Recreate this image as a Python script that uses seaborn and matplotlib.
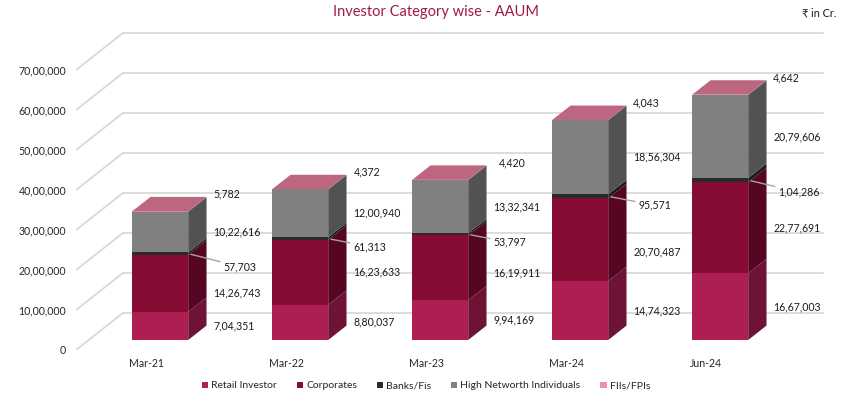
import numpy as np
import pandas as pd
import matplotlib
matplotlib.use("Agg")
import matplotlib.pyplot as plt
from matplotlib.patches import Patch
import seaborn as sns

# AAUM by investor category (Rs in Cr.)
categories = ["Mar-21", "Mar-22", "Mar-23", "Mar-24", "Jun-24"]
retail = [704351, 880037, 994169, 1474323, 1667003]
corporates = [1426743, 1623633, 1619911, 2070487, 2277691]
banks = [57703, 61313, 53797, 95571, 104286]
hni = [1022616, 1200940, 1332341, 1856304, 2079606]
fiis = [5782, 4372, 4420, 4043, 4642]

series_names = ["Retail Investor", "Corporates", "Banks/Fis",
                "High Networth Individuals", "FIIs/FPIs"]
series_vals = [retail, corporates, banks, hni, fiis]
y_ticks = [0, 1000000, 2000000, 3000000, 4000000, 5000000, 6000000, 7000000]

# colours: front face, side face
front_cols = ["#AD1F53", "#860C34", "#2B2B2B", "#808080", "#F08CAE"]
side_cols = ["#6E1335", "#560523", "#1C1C1C", "#525252", "#B0607A"]
top_col = "#BC6680"
legend_cols = ["#AD1F53", "#860C34", "#2B2B2B", "#808080", "#F08CAE"]

sns.set_style("white")
plt.rcParams["font.family"] = ["Lato", "DejaVu Sans"]

W, H, DPI = 847, 396, 100
fig = plt.figure(figsize=(W / DPI, H / DPI), dpi=DPI)

# axes placed in pixels: x=-0.5 at px 76, 140 px per category, 40 px per 10 lakh
PX_X = 140.0
PX_Y = 40.0 / 1000000
ax_left, ax_right, ax_bottom, ax_top = 76, 832, 350, 20
ax = fig.add_axes([ax_left / W, 1 - ax_bottom / H,
                   (ax_right - ax_left) / W, (ax_bottom - ax_top) / H])

# pseudo 3-D depth: full wall depth and the bar slab
DX = 47 / PX_X
DY = 37 / PX_Y
z0, dz = 0.27, 0.39
sx, sy = z0 * DX + 1.5 / PX_X, z0 * DY
bdx, bdy = dz * DX, dz * DY
bar_w = 0.4

# back wall grid lines and the diagonals to the left
x0, x1 = -0.5, 4.5
for v in y_ticks:
    ax.plot([x0 + DX, x1 + DX], [v + DY, v + DY], color="#D9D9D9", lw=1.3, zorder=0)
    ax.plot([x0, x0 + DX], [v, v + DY], color="#D9D9D9", lw=1.3, zorder=0)

# stacked front faces via seaborn: draw cumulative totals from the top down
cum = np.cumsum(np.array(series_vals, dtype=float), axis=0)
bottoms = np.vstack([np.zeros(len(categories)), cum[:-1]])
for k in range(len(series_vals) - 1, -1, -1):
    df = pd.DataFrame({"cat": categories, "val": cum[k]})
    sns.barplot(data=df, x="cat", y="val", color=front_cols[k], saturation=1,
                width=bar_w, errorbar=None, linewidth=0, ax=ax, zorder=2)

# move front faces into the bar plane
for p in ax.patches:
    p.set_x(p.get_x() + sx)
    p.set_y(p.get_y() + sy)

# side and top faces
for i in range(len(categories)):
    xl = i - bar_w / 2 + sx
    xr = i + bar_w / 2 + sx
    for k in range(len(series_vals)):
        yb = bottoms[k, i] + sy
        yt = cum[k, i] + sy
        ax.fill([xr, xr + bdx, xr + bdx, xr], [yb, yb + bdy, yt + bdy, yt],
                color=side_cols[k], lw=0, zorder=2)
    T = cum[-1, i] + sy
    ax.fill([xl, xr, xr + bdx, xl + bdx], [T, T, T + bdy, T + bdy],
            color=top_col, lw=0, zorder=2)


def indian(n):
    s = str(int(round(n)))
    if len(s) <= 3:
        return s
    head, tail = s[:-3], s[-3:]
    parts = []
    while len(head) > 2:
        parts.insert(0, head[-2:])
        head = head[:-2]
    if head:
        parts.insert(0, head)
    return ",".join(parts) + "," + tail


# data labels (pixel offsets converted to points)
pt = 72.0 / DPI
corp_nudge = [10, 0, 5, 12, 0]
bank_dx = [35, 25, 25, 30, 30]
bank_dy = [13, 8, 8, 9, 12]
fii_dx = [25, 26, 31, 25, 25]
lab_kw = dict(fontsize=7.6, color="#1A1A1A", va="center", ha="left",
              textcoords="offset points", zorder=5)
for i in range(len(categories)):
    xr = i + bar_w / 2 + sx
    for k in range(len(series_vals)):
        mid = (bottoms[k, i] + cum[k, i]) / 2 + sy
        txt = indian(series_vals[k][i])
        if k == 2:
            ax.annotate(txt, xy=(xr, mid), xytext=(bank_dx[i] * pt, -bank_dy[i] * pt),
                        arrowprops=dict(arrowstyle="-", color="#A6A6A6", lw=1,
                                        shrinkA=0, shrinkB=2), **lab_kw)
        elif k == 4:
            ax.annotate(txt, xy=(xr, cum[k, i] + sy), xytext=(fii_dx[i] * pt, 17 * pt), **lab_kw)
        else:
            dy = -corp_nudge[i] if k == 1 else 0
            ax.annotate(txt, xy=(xr, mid), xytext=(25 * pt, dy * pt), **lab_kw)

ax.set_xlim(-0.5, (ax_right - ax_left) / PX_X - 0.5)
ax.set_ylim(0, (ax_bottom - ax_top) / PX_Y)
ax.set_yticks(y_ticks)
ax.set_yticklabels([indian(v) for v in y_ticks])
ax.set_xticks(range(len(categories)))
ax.set_xticklabels(categories)
ax.tick_params(axis="y", length=0, pad=7.2, labelsize=7.6, labelcolor="#262626")
ax.tick_params(axis="x", length=0, pad=5.5, labelsize=7.6, labelcolor="#262626")
ax.set_xlabel("")
ax.set_ylabel("")
for s in ax.spines.values():
    s.set_visible(False)
ax.set_facecolor("none")

fig.text(436 / W, 1 - 12 / H, "Investor Category wise - AAUM", ha="center", va="center",
         fontsize=10.5, color="#A2184E")
fig.text(802 / W, 1 - 13 / H, "\u20b9 in Cr.", ha="left", va="center",
         fontsize=7.8, color="#1A1A1A")

handles = [Patch(facecolor=c, edgecolor="none") for c in legend_cols]
fig.legend(handles, series_names, loc="center", bbox_to_anchor=(426 / W, 1 - 386 / H),
           ncol=5, frameon=False, fontsize=7.5, handlelength=0.6, handleheight=0.6,
           handletextpad=0.3, columnspacing=1.9)

fig.savefig("out.png", dpi=DPI)
